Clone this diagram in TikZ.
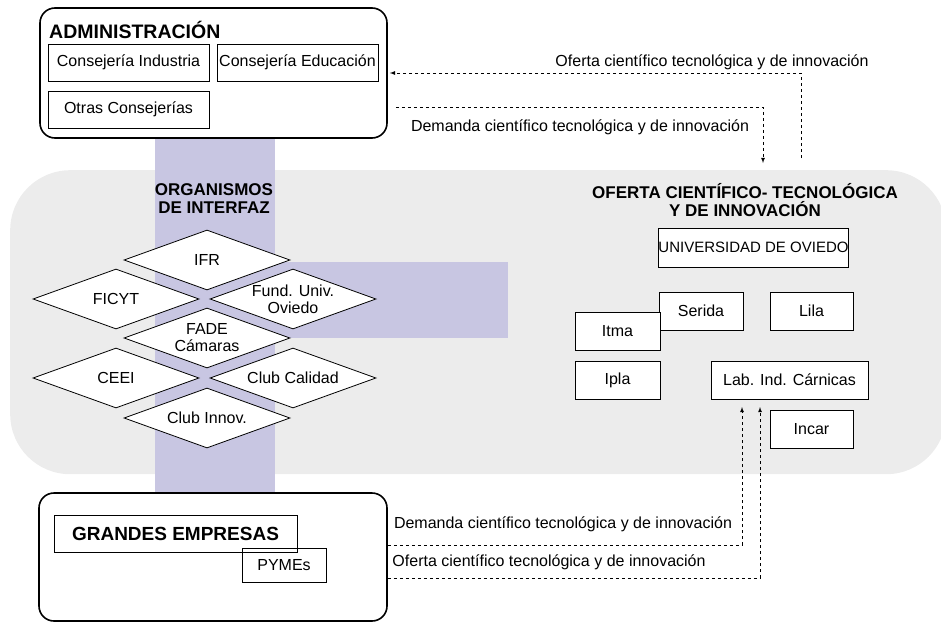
\documentclass[tikz,border=0pt]{standalone}
\usepackage{fontspec}
\setmainfont{Liberation Sans}
\usetikzlibrary{shapes.geometric}

\definecolor{gris}{RGB}{236,236,236}
\definecolor{malva}{RGB}{200,198,226}

\tikzset{
  caja/.style={draw, fill=white, line width=0.8pt, inner sep=0pt, font=\fontsize{16}{18}\selectfont},
  bloque/.style={draw, fill=white, line width=1.6pt, rounded corners=15pt, inner sep=0pt},
  rombo/.style={diamond, draw, fill=white, line width=0.8pt, inner sep=0pt, minimum width=166pt, minimum height=60pt},
  rtxt/.style={font=\fontsize{16}{17}\selectfont, align=center, inner sep=0pt},
  titulo/.style={font=\bfseries\fontsize{17}{18}\selectfont, align=center, inner sep=0pt},
  texto/.style={font=\fontsize{16}{18}\selectfont, inner sep=0pt},
  flujo/.style={dashed, line width=0.8pt, ->, >=latex},
}

\begin{document}
\begin{tikzpicture}[x=1pt, y=-1pt]
    \useasboundingbox (0,0) rectangle (941,623);
    % Fondo gris de la oferta
    \node[fill=gris, rounded corners=60pt, inner sep=0pt, minimum width=936, minimum height=304, anchor=north west] (sistema) at (10,170) {};
    % Bandas de interfaz
    \fill[malva] (155,138) rectangle (275,493);
    \fill[malva] (275,262) rectangle (508,338);

    % Administracion
    \node[bloque, minimum width=347, minimum height=130] (admin) at (213.5,73) {};
    \node[titulo, anchor=west, font=\bfseries\fontsize{19.5}{20}\selectfont] (admtit) at (49,30) {ADMINISTRACIÓN};
    \node[caja, minimum width=161, minimum height=37] (industria) at (128.5,62.5) {Consejería Industria};
    \node[caja, minimum width=161, minimum height=37] (educacion) at (297.5,62.5) {Consejería Educación};
    \node[caja, minimum width=161, minimum height=37] (otras) at (128.5,109.5) {Otras Consejerías};

    % Organismos de interfaz
    \node[titulo] (orgtit) at (214,199) {ORGANISMOS\\DE INTERFAZ};
    \node[rombo, label={[rtxt]center:IFR}] (ifr) at (207,260) {};
    \node[rombo, label={[rtxt]center:FICYT}] (ficyt) at (116,299) {};
    \node[rombo, label={[rtxt]center:Fund. Univ.\\Oviedo}] (fundacion) at (293,299) {};
    \node[rombo, label={[rtxt]center:FADE\\Cámaras}] (fade) at (207,338) {};
    \node[rombo, label={[rtxt]center:CEEI}] (ceei) at (116,378) {};
    \node[rombo, label={[rtxt]center:Club Calidad}] (calidad) at (293,378) {};
    \node[rombo, label={[rtxt]center:Club Innov.}] (innov) at (207,418) {};

    % Oferta cientifico-tecnologica
    \node[titulo] (oftit) at (745,200) {OFERTA CIENTÍFICO- TECNOLÓGICA\\Y DE INNOVACIÓN};
    \node[caja, minimum width=189, minimum height=39, font=\fontsize{15}{17}\selectfont] (univ) at (753.5,247.5) {UNIVERSIDAD DE OVIEDO};
    \node[caja, minimum width=84, minimum height=38] (serida) at (701,311) {Serida};
    \node[caja, minimum width=83, minimum height=38] (lila) at (811.5,311) {Lila};
    \node[caja, minimum width=85, minimum height=38] (itma) at (617.5,331) {Itma};
    \node[caja, minimum width=85, minimum height=38] (ipla) at (617.5,380) {Ipla};
    \node[caja, minimum width=157, minimum height=38] (lab) at (789.5,380) {Lab. Ind. Cárnicas};
    \node[caja, minimum width=83, minimum height=38] (incar) at (811.5,429) {Incar};

    % Empresas
    \node[bloque, minimum width=348, minimum height=128] (empresas) at (213,557) {};
    \node[caja, fill=none, minimum width=84, minimum height=34] (pymes) at (284,565) {PYMEs};
    \node[caja, fill=none, minimum width=243, minimum height=37, font=\bfseries\fontsize{19}{20}\selectfont] (grandes) at (175.5,533.5) {GRANDES EMPRESAS};

    % Flujos con la administracion
    \coordinate (o1) at (801,158);
    \coordinate (d2) at (763,163);
    \draw[flujo, shorten >=2pt] (o1) |- (admin.east);
    \draw[flujo] ([xshift=8pt, yshift=-34pt]admin.east) -| (d2);
    \node[texto] (ofertaA) at (712,62) {Oferta científico tecnológica y de innovación};
    \node[texto] (demandaA) at (580,127) {Demanda científico tecnológica y de innovación};

    % Flujos con las empresas
    \coordinate (b1) at (742,407);
    \coordinate (b2) at (760,407);
    \draw[flujo] ([yshift=12pt]empresas.east) -| (b1);
    \draw[flujo] ([yshift=-21pt]empresas.east) -| (b2);
    \node[texto] (demandaB) at (563,524) {Demanda científico tecnológica y de innovación};
    \node[texto] (ofertaB) at (549,562) {Oferta científico tecnológica y de innovación};
\end{tikzpicture}
\end{document}
